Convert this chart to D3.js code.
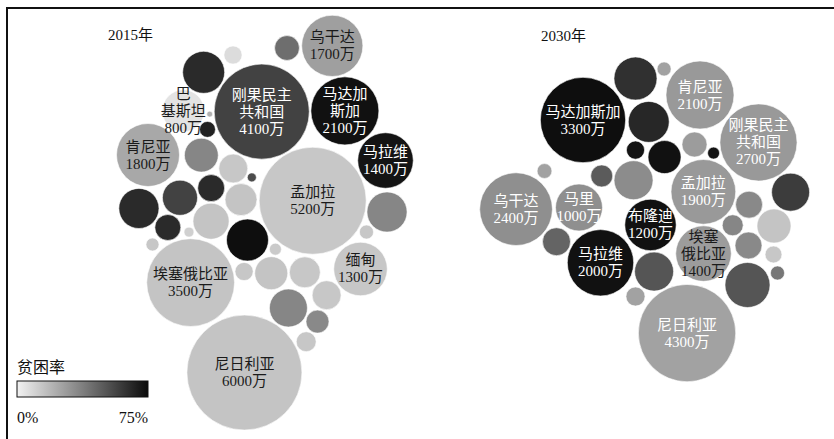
<!DOCTYPE html>
<html>
<head>
<meta charset="utf-8">
<script src="https://cdn.jsdelivr.net/npm/d3@7"></script>
<style>
  body { margin: 0; background: #fff; }
  svg { display: block; }
</style>
</head>
<body>
<svg width="834" height="439"></svg>
<script>
// ---- 2015: labelled countries (poor population in 万, poverty rate in %)
const names2015 = ["乌干达", "刚果民主|共和国", "马达加|斯加", "巴|基斯坦", "肯尼亚", "马拉维", "孟加拉", "缅甸", "埃塞俄比亚", "尼日利亚"];
const poor2015 = [1700, 4100, 2100, 800, 1800, 1400, 5200, 1300, 3500, 6000];
const rate2015 = [27, 57, 73, 5, 24, 72, 14, 14, 15, 15];
// other (unlabelled) countries 2015
const otherPoor2015 = [800, 150, 280, 16, 115, 520, 380, 37, 730, 90, 730, 560, 330, 465, 305, 590, 45, 77, 800, 65, 150, 495, 435, 380, 655, 240, 180];
const otherRate2015 = [65, 7, 43, 21, 68, 35, 14, 54, 35, 14, 65, 57, 65, 15, 65, 15, 11, 14, 74, 13, 14, 15, 14, 14, 35, 34, 14];

// ---- 2030
const names2030 = ["马达加斯加", "肯尼亚", "刚果民主|共和国", "孟加拉", "乌干达", "马里", "布隆迪", "马拉维", "埃塞|俄比亚", "尼日利亚"];
const poor2030 = [3300, 2100, 2700, 1900, 2400, 1000, 1200, 2000, 1400, 4300];
const rate2030 = [74, 29, 29, 29, 32, 32, 73, 73, 28, 26];
const otherPoor2030 = [840, 90, 760, 285, 65, 150, 495, 100, 220, 690, 655, 330, 525, 200, 355, 330, 130, 90, 690, 920, 165];
const otherRate2030 = [63, 26, 66, 28, 72, 72, 73, 26, 49, 33, 59, 34, 15, 35, 46, 34, 14, 40, 51, 51, 26];

// legend
const legendTitle = "贫困率";
const rateDomain = [0, 75];

// layout seeds for the force layout (where each bubble sits in the cluster)
const layout2015 = {
  x: [332.5, 264.5, 341, 185, 148, 385.5, 311, 360.5, 191, 244.5],
  y: [47, 115, 110, 109, 155, 160.5, 198, 269, 282.5, 372.5],
  ox: [206, 233, 287, 212, 212.5, 201.5, 233.5, 251, 387, 366.5, 139, 180.5, 211.5, 241, 168, 211, 189.5, 152.5, 248, 275.5, 244, 270.5, 303, 326.5, 288.5, 316.5, 305],
  oy: [77, 55, 48, 114, 126.5, 154.5, 167, 177, 212, 232, 208.5, 198, 187.5, 199.5, 226.5, 221, 232, 244.5, 240, 249, 272, 273, 272.5, 295, 308.5, 321.5, 342]
};
const layout2030 = {
  x: [583, 700, 758.5, 703.5, 516.5, 579, 650.5, 600, 703.5, 687],
  y: [120, 95, 142.5, 192, 209.5, 207.5, 225, 262.5, 253.5, 333],
  ox: [635.5, 664, 648.5, 694.5, 714, 636.5, 664.5, 544.5, 602, 633.5, 790.5, 748.5, 774, 732.5, 557, 748.5, 773.5, 777.5, 654, 747.5, 635.5],
  oy: [78.5, 69, 122.5, 144.5, 153, 150.5, 157, 171, 176, 179.5, 192, 204.5, 226, 225, 241, 245.5, 254.5, 273, 272, 285, 296.5]
};

const svg = d3.select("svg");
const serif = "'Liberation Serif', 'Noto Sans CJK SC', serif";

const rScale = d3.scaleSqrt().domain([0, 6000]).range([0, 57.5]);
const color = d3.scaleLinear().domain(rateDomain).range(["#f2f2f2", "#0b0b0b"]).clamp(true);

// labels drawn in dark ink, the rest are white
const darkInk = new Set(["2015乌干达", "2015巴|基斯坦", "2015肯尼亚", "2015孟加拉", "2015缅甸", "2015埃塞俄比亚", "2015尼日利亚", "2030埃塞|俄比亚"]);

function buildNodes(year, names, poor, rate, otherPoor, otherRate, lay) {
  const nodes = names.map((n, i) => ({
    year, name: n, poor: poor[i], rate: rate[i], sx: lay.x[i], sy: lay.y[i]
  }));
  otherPoor.forEach((p, i) => nodes.push({
    year, name: "", poor: p, rate: otherRate[i], sx: lay.ox[i], sy: lay.oy[i]
  }));
  nodes.forEach(d => { d.r = rScale(d.poor); d.x = d.sx; d.y = d.sy; });
  return nodes;
}

const nodes = buildNodes(2015, names2015, poor2015, rate2015, otherPoor2015, otherRate2015, layout2015)
  .concat(buildNodes(2030, names2030, poor2030, rate2030, otherPoor2030, otherRate2030, layout2030));

// settle the bubbles so they touch without overlapping
const sim = d3.forceSimulation(nodes)
  .force("x", d3.forceX(d => d.sx).strength(0.2))
  .force("y", d3.forceY(d => d.sy).strength(0.2))
  .force("collide", d3.forceCollide(d => d.r + 0.8).strength(1).iterations(4))
  .stop();
for (let i = 0; i < 300; i++) sim.tick();

// frame (top and left edges)
svg.append("line").attr("x1", 6).attr("x2", 834).attr("y1", 8).attr("y2", 8)
  .attr("stroke", "#111").attr("stroke-width", 2);
svg.append("line").attr("x1", 7).attr("x2", 7).attr("y1", 7).attr("y2", 439)
  .attr("stroke", "#111").attr("stroke-width", 2);

// titles
svg.append("text").attr("x", 108).attr("y", 40).attr("font-family", serif)
  .attr("font-size", 15).attr("fill", "#111").text("2015年");
svg.append("text").attr("x", 541).attr("y", 41).attr("font-family", serif)
  .attr("font-size", 15).attr("fill", "#111").text("2030年");

// bubbles
const g = svg.append("g");
g.selectAll("circle")
  .data(nodes)
  .join("circle")
  .attr("cx", d => d.x)
  .attr("cy", d => d.y)
  .attr("r", d => d.r)
  .attr("fill", d => color(d.rate))
  .attr("stroke", "#fff")
  .attr("stroke-width", 0.6);

// labels
const lineH = 17;
const labelled = nodes.filter(d => d.name !== "");
const labels = g.selectAll("text.lbl")
  .data(labelled)
  .join("text")
  .attr("class", "lbl")
  .attr("text-anchor", "middle")
  .attr("font-family", serif)
  .attr("font-size", 15)
  .attr("fill", d => darkInk.has(d.year + d.name) ? "#1a1a1a" : "#fff");

labels.each(function(d) {
  const lines = d.name.split("|").concat([d.poor + "万"]);
  const t = d3.select(this);
  lines.forEach((ln, i) => {
    t.append("tspan")
      .attr("x", d.x)
      .attr("y", d.y + (i - (lines.length - 1) / 2) * lineH)
      .attr("dominant-baseline", "central")
      .text(ln);
  });
});

// legend
const defs = svg.append("defs");
const grad = defs.append("linearGradient").attr("id", "rateGrad");
d3.range(0, 1.0001, 0.25).forEach(t => {
  grad.append("stop").attr("offset", t * 100 + "%")
    .attr("stop-color", color(rateDomain[0] + t * (rateDomain[1] - rateDomain[0])));
});

const legendX = d3.scaleLinear().domain(rateDomain).range([17, 148]);
svg.append("text").attr("x", 17).attr("y", 373).attr("font-family", serif)
  .attr("font-size", 16).attr("fill", "#111").text(legendTitle);
svg.append("rect")
  .attr("x", legendX(0)).attr("y", 381)
  .attr("width", legendX(75) - legendX(0)).attr("height", 16)
  .attr("fill", "url(#rateGrad)")
  .attr("stroke", "#111").attr("stroke-width", 1);
svg.append("text").attr("x", legendX(0)).attr("y", 423).attr("font-family", serif)
  .attr("font-size", 16).attr("fill", "#111").text(rateDomain[0] + "%");
svg.append("text").attr("x", legendX(75)).attr("y", 423).attr("text-anchor", "end")
  .attr("font-family", serif).attr("font-size", 16).attr("fill", "#111").text(rateDomain[1] + "%");
</script>
</body>
</html>
